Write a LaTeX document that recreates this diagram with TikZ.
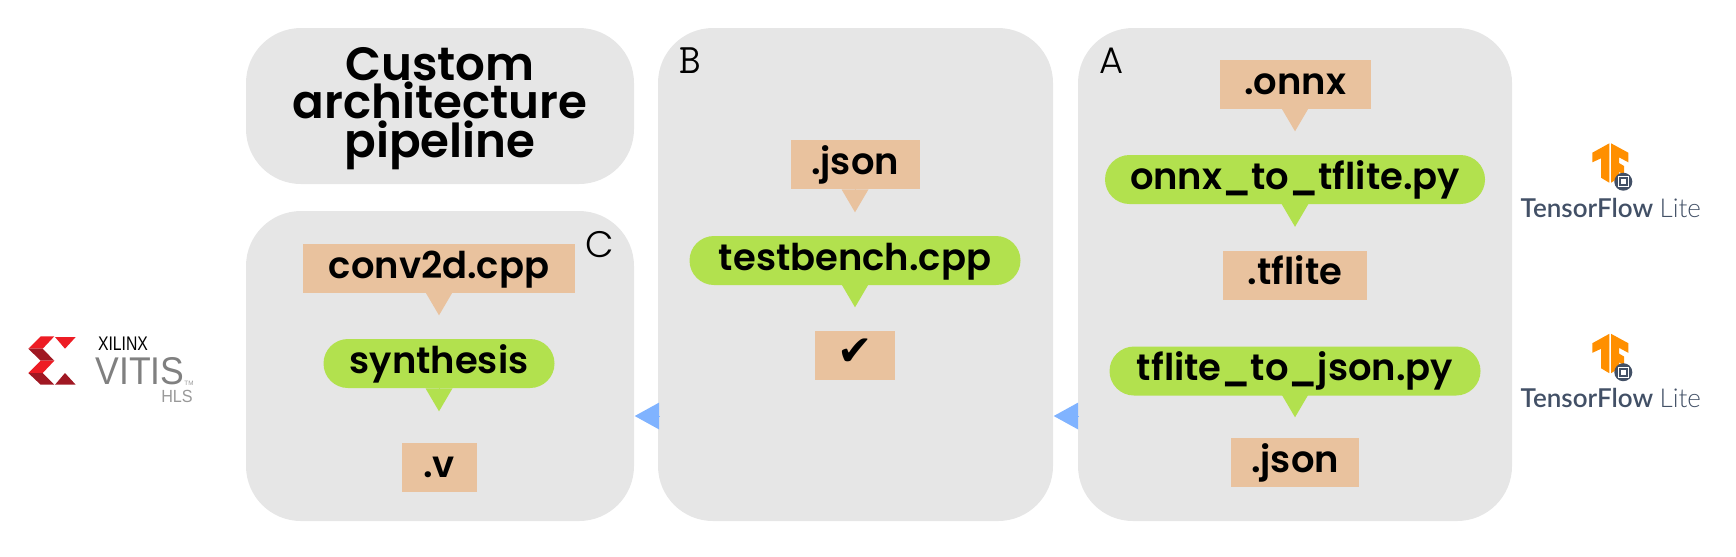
\documentclass[tikz,border=0pt]{standalone}
\usepackage{fontspec}
\usetikzlibrary{arrows.meta}
\setmainfont{Poppins}
\newfontfamily\thinfont{Poppins Light}
\newfontfamily\headfont{Poppins SemiBold}
\newfontfamily\tflfont{Lato Semibold}
\newfontfamily\tfllight{Lato Light}
\newfontfamily\vitisfont{Liberation Sans}
\newfontfamily\symbfont{DejaVu Sans}
\definecolor{panelgrey}{HTML}{E6E6E6}
\definecolor{filesand}{HTML}{E9C29E}
\definecolor{scriptgreen}{HTML}{B2E14E}
\definecolor{stepblue}{HTML}{80B3FF}
\definecolor{xred}{HTML}{ED1C24}
\definecolor{xdark}{HTML}{A01823}
\definecolor{tfslate}{HTML}{425066}
\definecolor{tforange}{HTML}{FF8F00}
\tikzset{
  panel/.style={fill=panelgrey, rounded corners=0.55cm, inner sep=0pt},
  filebox/.style={fill=filesand, inner sep=0pt, text height=0.34cm, text depth=0.15cm, font=\headfont\fontsize{10.5}{12}\selectfont},
  scriptbox/.style={fill=scriptgreen, rounded corners=0.245cm, inner sep=0pt, text height=0.34cm, text depth=0.15cm, font=\headfont\fontsize{10.5}{12}\selectfont},
  panelname/.style={inner sep=0pt, font=\thinfont\fontsize{10.5}{12}\selectfont},
  filetip/.style={filesand, line width=0pt, shorten >=0.23cm, -{Triangle[length=0.23cm,width=0.27cm,sep=0pt]}},
  scripttip/.style={scriptgreen, line width=0pt, shorten >=0.23cm, -{Triangle[length=0.23cm,width=0.27cm,sep=0pt]}},
  steptip/.style={stepblue, line width=0pt, -{Triangle[length=0.245cm,width=0.27cm,sep=0pt]}},
}

\begin{document}
\begin{tikzpicture}
\useasboundingbox (0,0) rectangle (17.36,-5.56);

% the four grey panels
\node[panel, minimum width=3.88cm, minimum height=1.56cm] (title) at (4.40,-1.06) {};
\node[panel, minimum width=3.88cm, minimum height=3.10cm] (panelC) at (4.40,-3.66) {};
\node[panel, minimum width=3.95cm, minimum height=4.93cm] (panelB) at (8.555,-2.745) {};
\node[panel, minimum width=4.34cm, minimum height=4.93cm] (panelA) at (12.95,-2.745) {};

% title lines, one node each so that the leading stays tight
\node[anchor=base, inner sep=0pt, font=\headfont\fontsize{13.3}{14}\selectfont] (titleA) at (4.40,-0.80) {Custom};
\node[anchor=base, inner sep=0pt, font=\headfont\fontsize{13.3}{14}\selectfont] (titleB) at (4.40,-1.18) {architecture};
\node[anchor=base, inner sep=0pt, font=\headfont\fontsize{13.3}{14}\selectfont] (titleC) at (4.40,-1.57) {pipeline};

\node[panelname] (nameA) at (11.12,-0.605) {A};
\node[panelname, font=\ttfamily\fontsize{12}{12}\selectfont] (nameB) at (6.90,-0.605) {B};
\node[panelname] (nameC) at (6.00,-2.45) {C};

% panel A
\node[filebox, minimum width=1.51cm] (onnx) at (12.95,-0.845) {.onnx};
\node[scriptbox, minimum width=3.80cm] (onnxpy) at (12.95,-1.795) {onnx\_to\_tflite.py};
\node[filebox, minimum width=1.44cm] (tflite) at (12.95,-2.75) {.tflite};
\node[scriptbox, minimum width=3.71cm] (tflitepy) at (12.95,-3.71) {tflite\_to\_json.py};
\node[filebox, minimum width=1.28cm] (jsonA) at (12.95,-4.625) {.json};

% panel B
\node[filebox, minimum width=1.29cm] (jsonB) at (8.55,-1.645) {.json};
\node[scriptbox, minimum width=3.31cm] (testpy) at (8.55,-2.605) {testbench.cpp};
\node[filebox, minimum width=0.80cm, font=\symbfont\fontsize{12}{13}\selectfont] (check) at (8.55,-3.555) {✔};

% panel C
\node[filebox, minimum width=2.72cm] (conv) at (4.39,-2.685) {conv2d.cpp};
\node[scriptbox, minimum width=2.31cm] (synth) at (4.39,-3.635) {synthesis};
\node[filebox, minimum width=0.75cm] (verilog) at (4.39,-4.675) {.v};

% triangles between the boxes
\draw[filetip] (onnx.south) -- (onnxpy.north);
\draw[scripttip] (onnxpy.south) -- (tflite.north);
\draw[scripttip, shorten >=0.20cm] (tflitepy.south) -- (jsonA.north);
\draw[filetip] (jsonB.south) -- (testpy.north);
\draw[scripttip] (testpy.south) -- (check.north);
\draw[filetip] (conv.south) -- (synth.north);
\draw[scripttip, shorten >=0.31cm] (synth.south) -- (verilog.north);

% blue triangles between the panels
\coordinate (stepAB) at (panelA.west |- 0,-4.16);
\coordinate (stepBA) at (panelB.east |- 0,-4.16);
\coordinate (stepBC) at (panelB.west |- 0,-4.16);
\coordinate (stepCB) at (panelC.east |- 0,-4.16);
\draw[steptip] (stepAB) -- (stepBA);
\draw[steptip] (stepBC) -- (stepCB);

% vitis logo
\fill[xred] (0.283,-3.487) -- (0.407,-3.363) -- (0.543,-3.363) -- (0.427,-3.487) -- cycle;
\fill[xdark] (0.283,-3.487) -- (0.427,-3.487) -- (0.543,-3.607) -- (0.407,-3.607) -- cycle;
\fill[xred] (0.407,-3.607) -- (0.543,-3.607) -- (0.427,-3.73) -- (0.283,-3.73) -- cycle;
\fill[xdark] (0.283,-3.73) -- (0.427,-3.73) -- (0.543,-3.847) -- (0.407,-3.847) -- cycle;
\fill[xred] (0.55,-3.37) -- (0.757,-3.37) -- (0.65,-3.487) -- cycle;
\fill[xdark] (0.55,-3.847) -- (0.65,-3.73) -- (0.757,-3.847) -- cycle;
\node[inner sep=0pt, font=\vitisfont\fontsize{5.6}{6}\selectfont] (xilinx) at (1.23,-3.44) {\scalebox{0.8}[1]{XILINX}};
\node[inner sep=0pt, text=black!50, font=\vitisfont\fontsize{11}{12}\selectfont] (vitis) at (1.40,-3.71) {\scalebox{0.92}[1]{VITIS}};
\node[inner sep=0pt, text=black!40, font=\vitisfont\fontsize{1.8}{2}\selectfont] (tm) at (1.89,-3.83) {TM};
\node[inner sep=0pt, text=black!40, font=\vitisfont\fontsize{5}{6}\selectfont] (hls) at (1.77,-3.965) {\scalebox{0.92}[1]{HLS}};

% tensorflow lite logos
\foreach \ty/\tname in {0/tflA,-1.905/tflB} {
  \begin{scope}[yshift=\ty cm]
    \fill[tforange] (15.923,-1.527) -- (16.093,-1.433) -- (16.093,-1.827) -- (16.01,-1.777) -- (16.01,-1.583) -- (15.923,-1.623) -- cycle;
    \fill[tforange] (16.11,-1.433) -- (16.283,-1.527) -- (16.283,-1.623) -- (16.19,-1.573) -- (16.19,-1.63) -- (16.24,-1.66) -- (16.24,-1.75) -- (16.19,-1.717) -- (16.19,-1.777) -- (16.11,-1.827) -- cycle;
    \fill[tfslate] (16.233,-1.817) circle (0.09);
    \draw[white, line width=0.3pt] (16.183,-1.867) rectangle (16.283,-1.767);
    \fill[white] (16.21,-1.844) rectangle (16.256,-1.79);
    \node[inner sep=0pt, anchor=base west, text=tfslate, font=\tflfont\fontsize{7.4}{8}\selectfont] (\tname) at (15.20,-2.17) {TensorFlow {\tfllight Lite}};
  \end{scope}
}

\end{tikzpicture}
\end{document}
